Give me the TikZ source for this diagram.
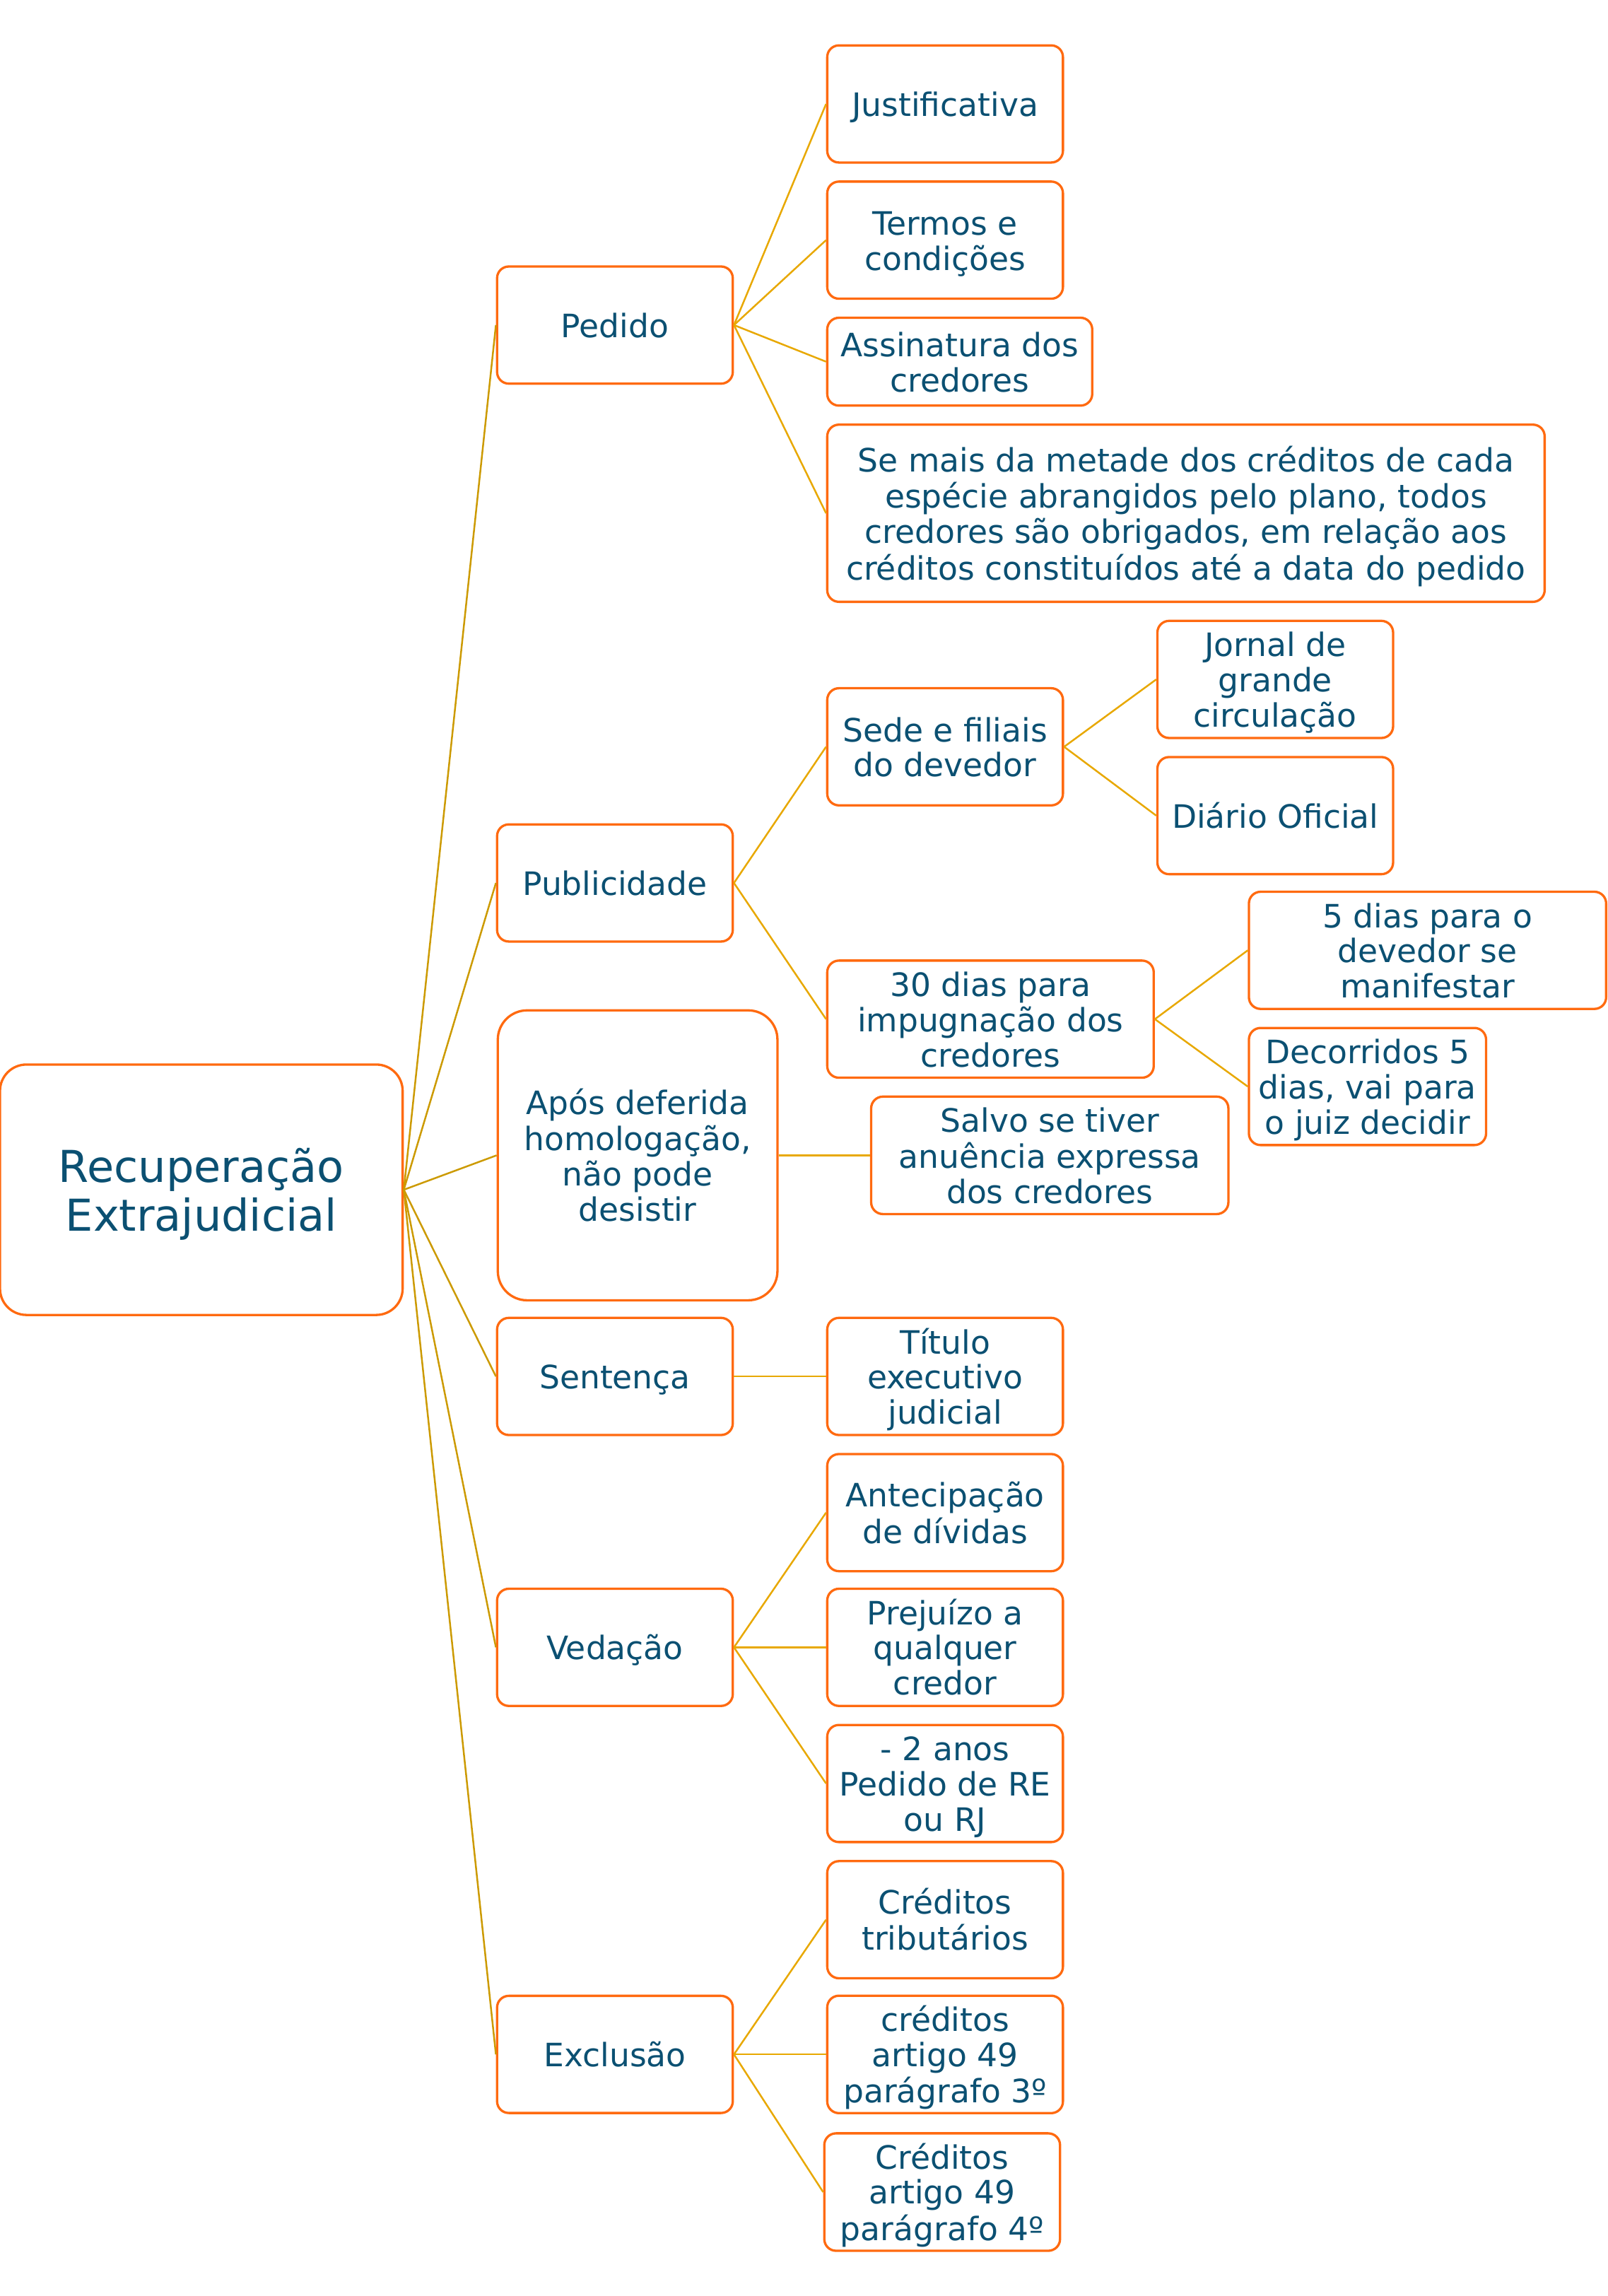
\documentclass[tikz,border=0pt]{standalone}
\usepackage{fontspec}
\setmainfont{DejaVu Sans}
\definecolor{boxorange}{HTML}{FF6A10}
\definecolor{txtblue}{HTML}{0B5072}
\definecolor{linkA}{HTML}{CC9A00}
\definecolor{linkB}{HTML}{E8A800}
\newcommand{\bx}[1]{\begin{tabular}{@{}c@{}}\rule{0pt}{1.1em}#1\end{tabular}}
\tikzset{
	box/.style={rectangle, rounded corners=8pt, draw=boxorange, line width=1.6pt, fill=white,
		text=txtblue, inner sep=0pt, font=\fontsize{22}{24}\selectfont,
		minimum width=161pt, minimum height=80pt},
	rootbox/.style={box, rounded corners=18pt, minimum width=275pt, minimum height=171pt,
		font=\fontsize{30}{33}\selectfont},
	linkmain/.style={draw=linkA, line width=1.2pt},
	linksub/.style={draw=linkB, line width=1.2pt}
}
\begin{document}
\begin{tikzpicture}[x=1pt, y=-1pt]
	\useasboundingbox (0,0) rectangle (1098,1568);
	% tronco
	\node[rootbox] (root) at (137.5,812.5) {\bx{Recuperação\\Extrajudicial}};
	
	\node[box] (pedido) at (420,222) {\bx{Pedido}};
	\node[box] (public) at (420,603) {\bx{Publicidade}};
	\node[box, rounded corners=20pt, minimum width=191pt, minimum height=198pt] (apos) at (435.5,789) {\bx{Após deferida\\homologação,\\não pode\\desistir}};
	\node[box] (sentenca) at (420,940) {\bx{Sentença}};
	\node[box] (vedacao) at (420,1125) {\bx{Vedação}};
	\node[box] (exclusao) at (420,1403) {\bx{Exclusão}};
	
	% pedido
	\node[box] (justif) at (645.5,71) {\bx{Justificativa}};
	\node[box] (termos) at (645.5,164) {\bx{Termos e\\condições}};
	\node[box, minimum width=181pt, minimum height=60pt] (assin) at (655.5,247) {\bx{Assinatura dos\\credores}};
	\node[box, minimum width=490pt, minimum height=121pt] (metade) at (810,350.5) {\bx{Se mais da metade dos créditos de cada\\espécie abrangidos pelo plano, todos\\credores são obrigados, em relação aos\\créditos constituídos até a data do pedido}};
	
	% publicidade
	\node[box] (sede) at (645.5,510) {\bx{Sede e filiais\\do devedor}};
	\node[box, minimum width=223pt] (trinta) at (676.5,696) {\bx{30 dias para\\impugnação dos\\credores}};
	\node[box] (jornal) at (871,464) {\bx{Jornal de\\grande\\circulação}};
	\node[box] (diario) at (871,557) {\bx{Diário Oficial}};
	\node[box, minimum width=244pt] (cinco) at (975,649) {\bx{5 dias para o\\devedor se\\manifestar}};
	\node[box, minimum width=162pt] (decorr) at (934,742) {\bx{Decorridos 5\\dias, vai para\\o juiz decidir}};
	
	% apos / sentenca
	\node[box, minimum width=244pt] (salvo) at (717,789) {\bx{Salvo se tiver\\anuência expressa\\dos credores}};
	\node[box] (titulo) at (645.5,940) {\bx{Título\\executivo\\judicial}};
	
	% vedacao
	\node[box] (antecip) at (645.5,1033) {\bx{Antecipação\\de dívidas}};
	\node[box] (prejuizo) at (645.5,1125) {\bx{Prejuízo a\\qualquer\\credor}};
	\node[box] (anos) at (645.5,1218) {\bx{- 2 anos\\Pedido de RE\\ou RJ}};
	
	% exclusao
	\node[box] (tribut) at (645.5,1311) {\bx{Créditos\\tributários}};
	\node[box] (par3) at (645.5,1403) {\bx{créditos\\artigo 49\\parágrafo 3º}};
	\node[box] (par4) at (643.5,1497) {\bx{Créditos\\artigo 49\\parágrafo 4º}};
	
	\foreach \n in {pedido,public,apos,sentenca,vedacao,exclusao}
		\draw[linkmain] (root.east) -- (\n.west);
	\foreach \n in {justif,termos,assin,metade}
		\draw[linksub] (pedido.east) -- (\n.west);
	\foreach \n in {sede,trinta}
		\draw[linksub] (public.east) -- (\n.west);
	\foreach \n in {jornal,diario}
		\draw[linksub] (sede.east) -- (\n.west);
	\foreach \n in {cinco,decorr}
		\draw[linksub] (trinta.east) -- (\n.west);
	\draw[linksub] (apos.east) -- (salvo.west);
	\draw[linksub] (sentenca.east) -- (titulo.west);
	\foreach \n in {antecip,prejuizo,anos}
		\draw[linksub] (vedacao.east) -- (\n.west);
	\foreach \n in {tribut,par3,par4}
		\draw[linksub] (exclusao.east) -- (\n.west);
\end{tikzpicture}
\end{document}
